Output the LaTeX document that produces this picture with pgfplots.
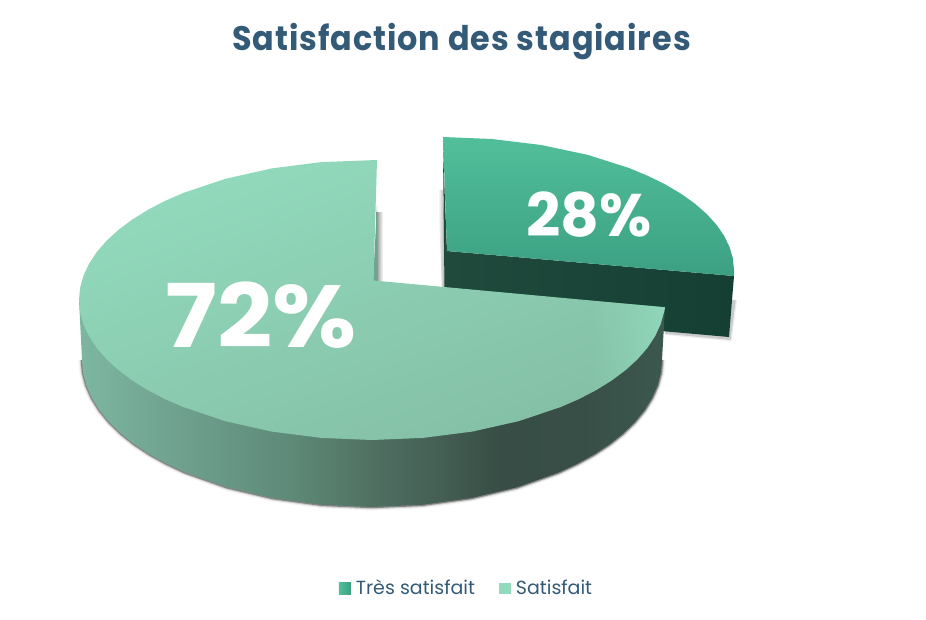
\documentclass[border=0pt]{standalone}
\usepackage{pgfplots}
\usepackage{pgfplotstable}
\usepackage{fontspec}
\usetikzlibrary{fadings}
\pgfplotsset{compat=1.18}
\setmainfont{Poppins}
\tikzfading[name=fadecorner, left color=transparent!100, right color=transparent!15]
\definecolor{titlec}{HTML}{335A76}
\definecolor{wa}{HTML}{7DB7A1}
\definecolor{wb}{HTML}{6D9F8C}
\definecolor{wc}{HTML}{5E8A78}
\definecolor{wd}{HTML}{4E6E60}
\definecolor{we}{HTML}{445E53}
\definecolor{wf}{HTML}{374D45}
\definecolor{wg}{HTML}{384F47}
\definecolor{wh}{HTML}{3C584E}
\definecolor{sa}{HTML}{1F4A3C}
\definecolor{sb}{HTML}{153F33}
\definecolor{sc}{HTML}{52BF9A}
\definecolor{sd}{HTML}{3BA082}
\definecolor{me}{HTML}{6FA590}
\definecolor{mf}{HTML}{92DABD}
\definecolor{mg}{HTML}{84BFA5}
\pgfdeclarehorizontalshading{mainwall}{100bp}{color(0bp)=(wa); color(25bp)=(wa); color(34.3bp)=(wb); color(43bp)=(wc); color(50.7bp)=(wd); color(56bp)=(we); color(61bp)=(wf); color(68bp)=(wg); color(75bp)=(wh); color(100bp)=(wh)}
\pgfplotstableread{
x y
377 160
321.1 162.1
271.8 168.4
225.5 178.8
183.7 192.8
164.8 201
147.6 210
132 219.7
118.3 230
106.5 240.8
96.7 252.1
89 263.8
83.5 275.7
80.1 287.8
79 300
80.1 312.2
83.5 324.3
89 336.2
96.7 347.9
106.5 359.2
118.3 370
132 380.3
147.6 390
164.8 399
183.7 407.2
225.5 421.2
271.8 431.6
321.1 437.9
372 440
422.9 437.9
472.2 431.6
518.5 421.2
560.3 407.2
579.2 399
596.4 390
612 380.3
625.7 370
637.5 359.2
647.3 347.9
655 336.2
660.5 324.3
663.9 312.2
665 307.3
373.5 280.5
}\maintop
\pgfplotstableread{
x y
590 300.4
665 307.3
663.9 312.2
660.5 324.3
655 336.2
647.3 347.9
637.5 359.2
625.7 370
612 380.3
596.4 390
590 393
}\maincorner
\pgfplotstableread{
x y
662 360
660.9 372.8
657.6 385.5
652.1 398
644.5 410.3
634.8 422.1
623.1 433.5
609.6 444.3
594.1 454.5
577.1 463.9
558.4 472.6
517 487.3
471.2 498.1
422.3 504.8
372 507
321.7 504.8
272.8 498.1
227 487.3
185.6 472.6
166.9 463.9
149.9 454.5
134.4 444.3
120.9 433.5
109.2 422.1
99.5 410.3
91.9 398
86.4 385.5
83.1 372.8
82 360
}\mainbase
\pgfplotstableread{
x y
665 307.3
662 360
660.9 372.8
657.6 385.5
652.1 398
644.5 410.3
634.8 422.1
623.1 433.5
609.6 444.3
594.1 454.5
577.1 463.9
558.4 472.6
517 487.3
471.2 498.1
422.3 504.8
372 507
321.7 504.8
272.8 498.1
227 487.3
185.6 472.6
166.9 463.9
149.9 454.5
134.4 444.3
120.9 433.5
109.2 422.1
99.5 410.3
91.9 398
86.4 385.5
83.1 372.8
82 360
79 300
}\mainwall
\pgfplotstableread{
x y
443 137
491.9 139
541.2 145
587.5 154.8
629.3 168.1
648.2 176
665.4 184.5
681 193.7
694.7 203.5
706.5 213.8
716.3 224.5
724 235.6
729.5 246.9
732.9 258.4
734 270
734 276
447 251
}\smalltop
\begin{document}
\begin{tikzpicture}
\useasboundingbox (0,0) rectangle (926pt,620pt);
\begin{axis}[
  at={(0,0)}, anchor=south west,
  scale only axis, width=926pt, height=620pt,
  xmin=0, xmax=926, ymin=0, ymax=620, y dir=reverse,
  hide axis, clip=false,
  legend style={at={(axis cs:466.5,588)}, anchor=center, draw=none, fill=none,
    legend columns=2, inner sep=0pt, outer sep=0pt,
    font=\fontsize{19}{22}\selectfont, text=titlec,
    /tikz/every even column/.append style={column sep=22pt}},
  legend cell align=left,
  legend image code/.code={\path[#1] (0pt,-6pt) rectangle (12pt,5.5pt); \path (15pt,0pt);},
]
% shadows behind the slices
\addplot[forget plot, draw=none, shade, left color=white, right color=gray!85] coordinates {(438,190) (443,190) (447,292) (442,292)};
\addplot[forget plot, draw=none, shade, left color=gray!90, right color=white] coordinates {(376,213) (383,213) (383,284) (376,284)};
\addplot[forget plot, draw=black, opacity=.07, line width=6pt] coordinates {(665,332) (729,338) (734,300)};
\addplot[forget plot, draw=black, opacity=.15, line width=3.5pt] coordinates {(665,332) (729,338) (734,300)};
\addplot[forget plot, draw=black, opacity=.05, line width=7pt] table {\mainbase};
\addplot[forget plot, draw=black, opacity=.15, line width=4.5pt] table {\mainbase};
\addplot[forget plot, draw=black, opacity=.35, line width=2.5pt] table {\mainbase};
% 28 % slice
\addplot[forget plot, draw=none, fill=sa] coordinates {(443,150) (447,251) (447,290) (444.5,290)};
\addplot[forget plot, draw=none, shade, left color=sa, right color=sb] coordinates {(447,251) (734,276) (729,337) (446,312)};
\addplot[forget plot, draw=none, shade, top color=sc, bottom color=sd] table {\smalltop};
% 72 % slice
\addplot[forget plot, draw=none, shade, shading=mainwall] table {\mainwall};
\addplot[forget plot, draw=none, fill=me] coordinates {(377,205) (378,282) (373,282)};
\addplot[forget plot, draw=none, shade, top color=mf, bottom color=mg, shading angle=20] table {\maintop};
\addplot[forget plot, draw=none, fill=mf, path fading=fadecorner] table {\maincorner};
% legend
\addlegendimage{draw=none, shade, left color=sc, right color=sd}
\addlegendentry{Très satisfait}
\addlegendimage{draw=none, fill=mf}
\addlegendentry{Satisfait}
% text
\node[anchor=base, text=titlec, inner sep=0pt] at (axis cs:461.5,51) {\scalebox{.937}[1]{\fontsize{34}{40}\selectfont\bfseries\addfontfeature{LetterSpace=3}Satisfaction des stagiaires}};
\node[anchor=base, text=white, inner sep=0pt] at (axis cs:589,237) {\fontsize{60}{70}\selectfont\bfseries 28\%};
\node[anchor=base, text=white, inner sep=0pt] at (axis cs:261,347) {\scalebox{1.1}[1]{\fontsize{88}{100}\selectfont\bfseries 72\%}};
\end{axis}
\end{tikzpicture}
\end{document}
